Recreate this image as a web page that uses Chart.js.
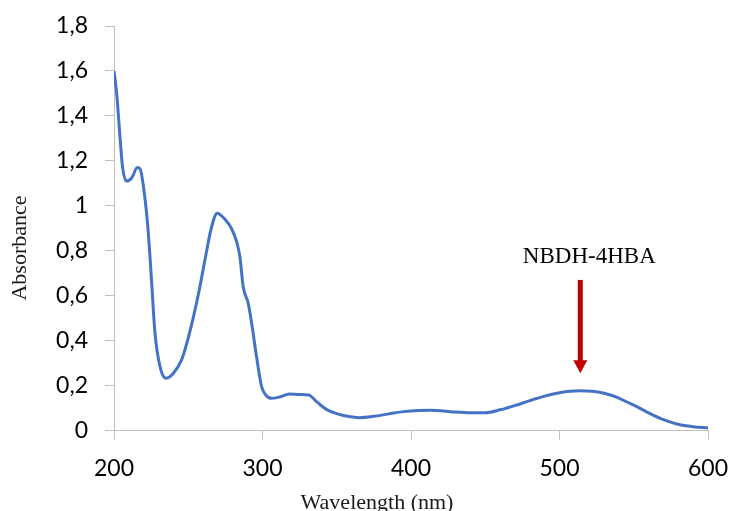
<!DOCTYPE html>
<html>
<head>
<meta charset="utf-8">
<script src="https://cdn.jsdelivr.net/npm/chart.js@4"></script>
<style>
  html, body { margin: 0; padding: 0; background: #ffffff; }
  #wrap { width: 730px; height: 511px; position: relative; }
</style>
</head>
<body>
<div id="wrap"><canvas id="c" width="730" height="511"></canvas></div>
<script>
// ---- data ----
const wavelengths = [200, 201.8, 204, 205.8, 208.5, 212, 215.7, 217.5, 220.9, 223.1, 225.4, 227.6, 231, 235, 240, 245.5, 249, 253.5, 257.4, 262.4, 265.5, 269.5, 274.7, 279, 282.6, 284.8, 287, 290.4, 292.7, 296, 299.4, 302, 306, 312, 318, 325, 331, 337, 343, 350, 358, 365, 375, 385, 395, 405, 413, 420, 430, 440, 450, 460, 471, 480, 490, 500, 507, 514, 522, 530, 538, 545, 553, 561, 570, 579, 590, 600];
const absorbance  = [1.60, 1.50, 1.31, 1.17, 1.11, 1.125, 1.17, 1.165, 1.03, 0.88, 0.655, 0.433, 0.284, 0.232, 0.255, 0.314, 0.388, 0.506, 0.625, 0.80, 0.90, 0.967, 0.94, 0.90, 0.84, 0.773, 0.64, 0.566, 0.477, 0.328, 0.195, 0.16, 0.143, 0.15, 0.162, 0.16, 0.158, 0.125, 0.094, 0.075, 0.062, 0.057, 0.063, 0.074, 0.084, 0.089, 0.090, 0.088, 0.082, 0.079, 0.079, 0.092, 0.113, 0.133, 0.153, 0.168, 0.175, 0.177, 0.175, 0.166, 0.150, 0.128, 0.103, 0.075, 0.048, 0.029, 0.017, 0.012];
const xTicks = [200, 300, 400, 500, 600];
const yTickLabels = ['0', '0,2', '0,4', '0,6', '0,8', '1', '1,2', '1,4', '1,6', '1,8'];
const annotationLabel = 'NBDH-4HBA';
const annotationX = 514;       // nm
const arrowFromY = 0.67;       // absorbance
const arrowToY = 0.255;        // absorbance
const labelY = 0.745;          // absorbance (baseline)
const xTitle = 'Wavelength (nm)';
const yTitle = 'Absorbance';

const points = wavelengths.map((w, i) => ({ x: w, y: absorbance[i] }));

const extras = {
  id: 'extras',
  afterDraw(chart) {
    const ctx = chart.ctx;
    const xs = chart.scales.x, ys = chart.scales.y;
    const ax = xs.getPixelForValue(annotationX);
    const y1 = ys.getPixelForValue(arrowFromY);
    const y2 = ys.getPixelForValue(arrowToY);
    ctx.save();
    // arrow
    ctx.strokeStyle = '#C00000';
    ctx.fillStyle = '#C00000';
    ctx.lineWidth = 5;
    ctx.beginPath();
    ctx.moveTo(ax, y1);
    ctx.lineTo(ax, y2 - 11);
    ctx.stroke();
    ctx.beginPath();
    ctx.moveTo(ax - 7, y2 - 13);
    ctx.lineTo(ax + 7, y2 - 13);
    ctx.lineTo(ax, y2);
    ctx.closePath();
    ctx.fill();
    // label
    ctx.fillStyle = '#000000';
    ctx.font = '23px "Liberation Serif", "Times New Roman", serif';
    ctx.textAlign = 'center';
    ctx.textBaseline = 'alphabetic';
    ctx.fillText(annotationLabel, ax + 9, ys.getPixelForValue(labelY));
    // x title
    ctx.fillStyle = '#1a1a1a';
    ctx.font = '22px "Liberation Serif", "Times New Roman", serif';
    ctx.fillText(xTitle, 377, 509);
    // y title
    ctx.translate(20, 248);
    ctx.rotate(-Math.PI / 2);
    ctx.textBaseline = 'middle';
    ctx.fillText(yTitle, 0, 0);
    ctx.restore();
  }
};

new Chart(document.getElementById('c'), {
  type: 'line',
  data: {
    datasets: [{
      data: points,
      borderColor: '#4472C4',
      borderWidth: 3,
      pointRadius: 0,
      fill: false,
      cubicInterpolationMode: 'monotone'
    }]
  },
  options: {
    responsive: false,
    animation: false,
    layout: { padding: { top: 26, right: 22, left: 0, bottom: 0 } },
    plugins: { legend: { display: false }, tooltip: { enabled: false } },
    scales: {
      x: {
        type: 'linear',
        min: 200, max: 600,
        afterBuildTicks(scale) { scale.ticks = xTicks.map(v => ({ value: v })); },
        afterFit(scale) { scale.height = 80.5; scale.paddingLeft = 0; scale.paddingRight = 0; },
        grid: { display: true, drawOnChartArea: false, tickLength: 9, color: '#bfbfbf', lineWidth: 1 },
        border: { color: '#bfbfbf', width: 1 },
        ticks: {
          color: '#000000',
          padding: 15,
          maxRotation: 0,
          font: { family: 'Lato, "Open Sans", sans-serif', size: 23 },
          callback: (v) => String(v)
        }
      },
      y: {
        min: 0, max: 1.8,
        afterBuildTicks(scale) { scale.ticks = yTickLabels.map((_, i) => ({ value: i * 0.2 })); },
        afterFit(scale) { scale.width = 114; scale.paddingTop = 0; scale.paddingBottom = 0; },
        grid: { display: true, drawOnChartArea: false, tickLength: 9, color: '#bfbfbf', lineWidth: 1 },
        border: { color: '#bfbfbf', width: 1 },
        ticks: {
          color: '#000000',
          padding: 17,
          font: { family: 'Lato, "Open Sans", sans-serif', size: 23 },
          callback: (v, i) => yTickLabels[i]
        }
      }
    }
  },
  plugins: [extras]
});
</script>
</body>
</html>
